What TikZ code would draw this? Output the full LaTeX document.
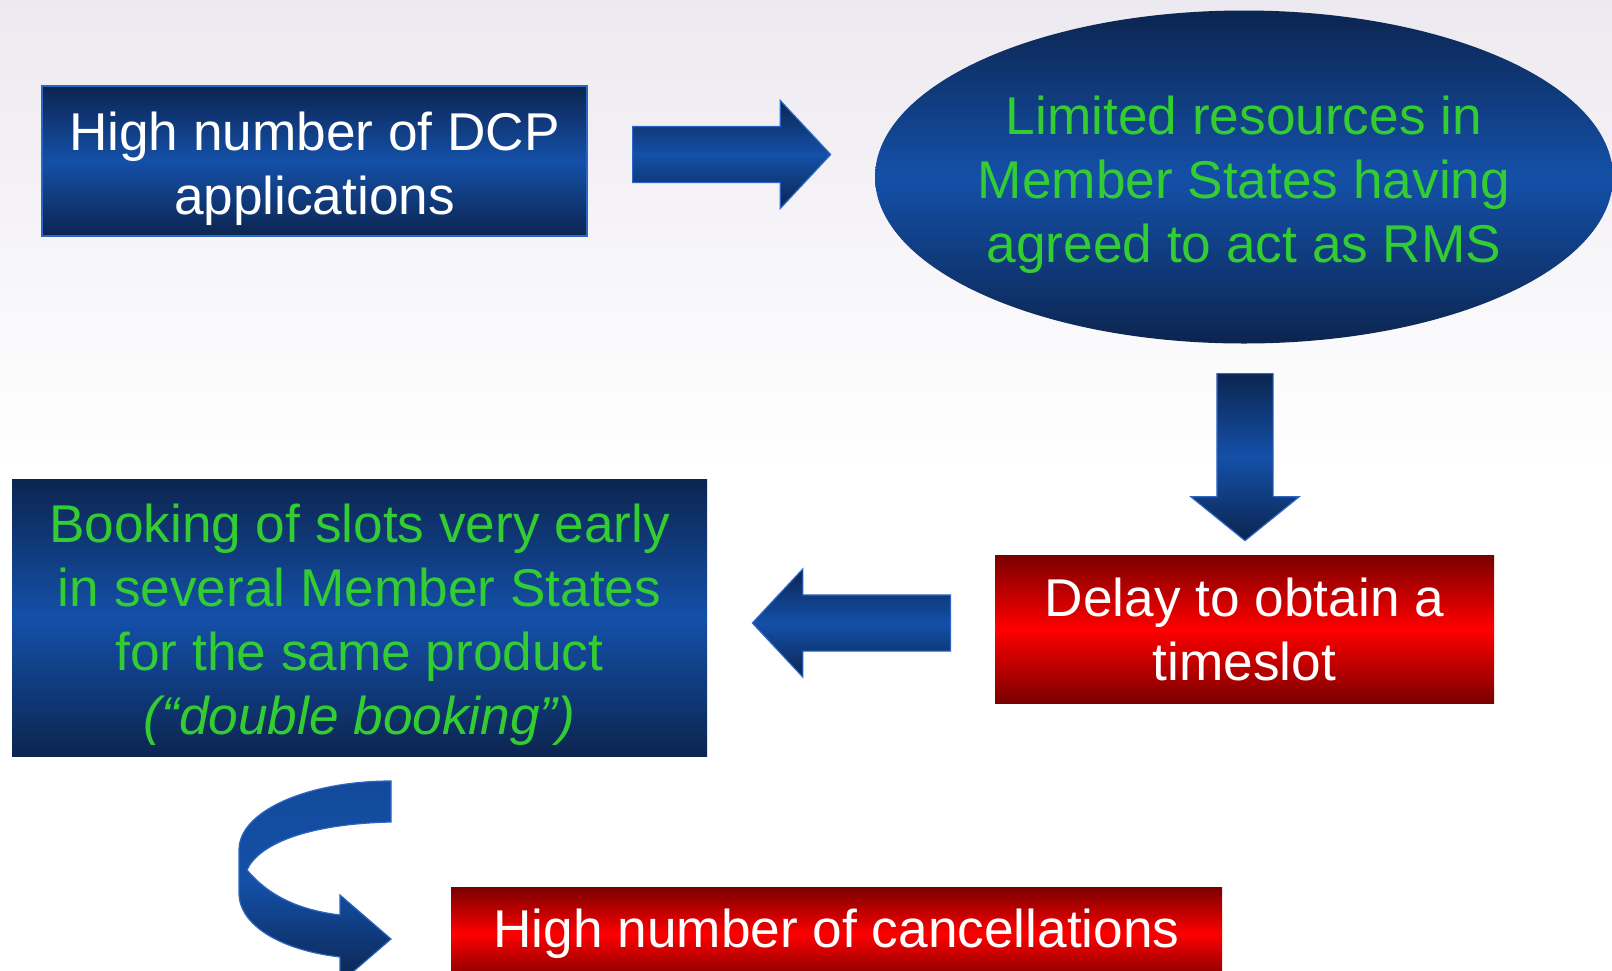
\documentclass[tikz,border=0pt]{standalone}
\usepackage{fontspec}
\setmainfont{Liberation Sans}
\usepackage{xcolor}
\usetikzlibrary{shapes.geometric,shapes.arrows,positioning}

\definecolor{bgtop}{HTML}{EDE9F0}
\definecolor{navy}{HTML}{0C2550}
\definecolor{slideblue}{HTML}{1450A8}
\definecolor{boxedge}{HTML}{2C66C4}
\definecolor{darkred}{HTML}{7A0000}
\definecolor{textgreen}{HTML}{33CC33}
\newcommand{\slidefont}{\fontsize{26.6}{32}\selectfont}
\newcommand{\lowered}{\rule{0pt}{27pt}}

\begin{document}
\begin{tikzpicture}[
    x=0.5pt, y=-0.5pt,
    bluebox/.style={rectangle, top color=navy, bottom color=navy, middle color=slideblue, inner sep=0pt, align=center, font=\slidefont},
    bluerim/.style={draw=boxedge, line width=1pt},
    redbox/.style={rectangle, top color=darkred, bottom color=darkred, middle color=red, inner sep=0pt, align=center, text=white, font=\slidefont},
    blockarrow/.style={single arrow, top color=navy, bottom color=navy, middle color=slideblue, draw=boxedge, line width=0.6pt, inner xsep=0pt, inner ysep=13.75pt, single arrow head extend=13pt, anchor=tail}
]
    % background
    \useasboundingbox (0,0) rectangle (1612,970);
    \fill[white] (0,0) rectangle (1612,970);
    \shade[top color=bgtop, bottom color=white] (0,0) rectangle (1612,470);

    \node[bluebox, bluerim, minimum width=272.5pt, minimum height=75pt, text=white] (dcp) at (314.5,161) {\lowered High number of DCP\\applications};
    \node[ellipse, top color=navy, bottom color=navy, middle color=slideblue, inner sep=0pt, inner xsep=-3pt, align=center, font=\slidefont, text=textgreen, minimum width=369pt, minimum height=166.5pt] (limited) at (1244,177) {\lowered Limited resources in\\Member States having\\agreed to act as RMS};
    \node[redbox, minimum width=249.5pt, minimum height=74pt] (delay) at (1244.5,629) {Delay to obtain a\\timeslot};
    \node[bluebox, minimum width=347.5pt, minimum height=138.5pt, text=textgreen] (booking) at (359.5,617.5) {\lowered Booking of slots very early\\in several Member States\\for the same product\\\textit{(“double booking”)}};
    \node[redbox, minimum width=385.5pt, minimum height=47pt] (cancel) at (836.5,934) {High number of cancellations};

    % block arrows
    \node[blockarrow, minimum height=99pt, single arrow tip angle=94] (toLimited) at (632,154.5) {};
    \node[blockarrow, minimum height=83.5pt, single arrow tip angle=102, rotate=-90] (toDelay) at (1245,373) {};
    \node[blockarrow, minimum height=99pt, single arrow tip angle=94, rotate=180] (toBooking) at (951,623) {};

    % curved arrow
    \shade[top color=slideblue!85!navy, bottom color=navy, middle color=slideblue, draw=boxedge, line width=0.6pt]
        (391,781) -- (391,822)
        .. controls (305,824) and (258,845) .. (247,870)
        .. controls (270,897) and (300,910) .. (340,915)
        -- (340,895) -- (391,939) -- (340,983) -- (340,957)
        .. controls (280,950) and (239,925) .. (239,893)
        -- (239,850)
        .. controls (239,810) and (310,781) .. (391,781) -- cycle;
\end{tikzpicture}
\end{document}
